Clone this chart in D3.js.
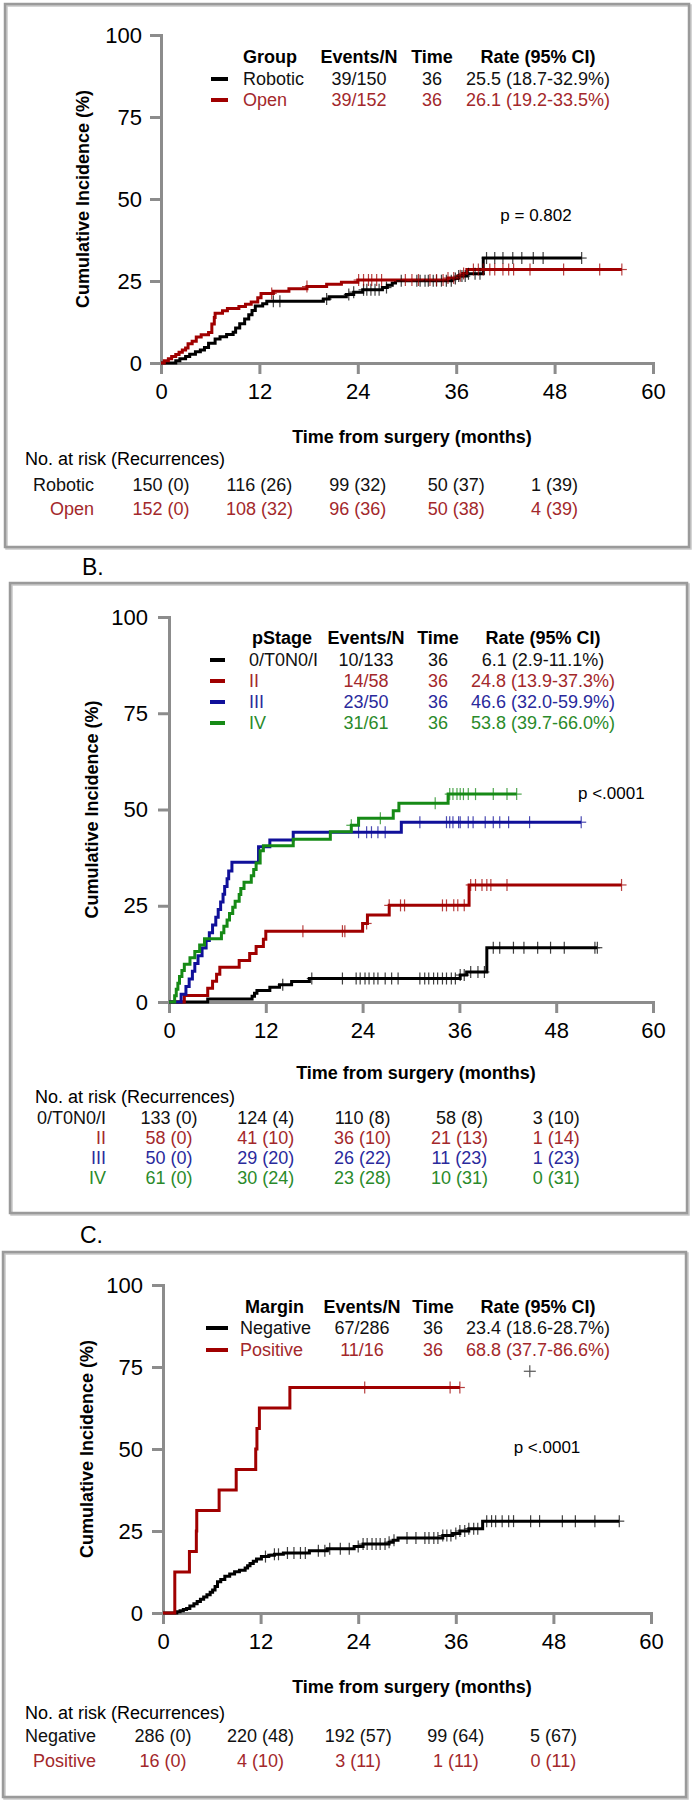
<!DOCTYPE html>
<html><head><meta charset="utf-8">
<script src="https://cdn.jsdelivr.net/npm/d3@7"></script>
<style>body{margin:0;background:#fff;} text{font-family:"Liberation Sans",Arial,sans-serif;}</style>
</head><body>
<svg id="chart" width="694" height="1800"></svg>
<script>
// ---------- shared ticks ----------
const timeTicks = [0, 12, 24, 36, 48, 60];
const incidenceTicks = [0, 25, 50, 75, 100];
const riskTimes = [0, 12, 24, 36, 48];

// ---------- Panel A : Group ----------
const groupNames = ["Robotic", "Open"];
const groupEvents = ["39/150", "39/152"];
const groupTime = [36, 36];
const groupRate = ["25.5 (18.7-32.9%)", "26.1 (19.2-33.5%)"];
const roboticSteps = [[1.8,0.7],[2.3,1.3],[3.0,2.0],[3.5,2.7],[4.2,3.4],[4.8,4.0],[5.3,4.7],[5.8,6.0],[6.6,7.3],[7.2,8.0],[8.0,8.7],[8.8,9.4],[9.1,10.7],[9.6,12.0],[10.2,13.4],[10.7,14.7],[11.1,16.0],[11.5,17.4],[12.4,18.1],[12.9,18.8],[19.8,19.5],[20.5,20.2],[22.6,20.9],[23.5,21.6],[24.6,22.3],[27.0,23.0],[27.6,23.7],[28.2,24.4],[28.6,25.1],[35.5,25.8],[36.2,26.5],[37.3,27.2],[39.3,32.0]];
const roboticEnd = 51.3;
const roboticCensor = [13.7,14.5,20.2,22.9,23.5,24.7,25.1,25.6,26.1,26.6,27.5,29.3,31.2,31.6,32.2,32.6,33.2,33.6,34.2,34.8,35.4,35.9,36.3,36.7,37.1,37.5,38.3,38.9,39.7,40.7,41.7,42.9,44.0,45.4,46.6,51.3];
const openSteps = [[0.4,0.7],[0.9,1.3],[1.3,2.0],[1.8,2.6],[2.2,3.3],[2.6,4.0],[3.0,4.6],[3.3,5.9],[3.8,6.6],[4.3,7.9],[4.9,8.6],[5.8,9.3],[6.2,11.9],[6.5,13.9],[6.6,15.2],[7.5,15.9],[8.1,16.6],[9.5,17.2],[10.3,17.9],[11.0,18.6],[11.8,19.9],[12.2,21.2],[13.7,21.9],[15.6,22.6],[17.8,23.3],[20.2,24.0],[22.0,24.6],[24.0,25.3],[35.0,25.9],[36.3,26.6],[36.8,27.3],[37.3,28.5]];
const openEnd = 56.2;
const openCensor = [13.5,17.8,24.1,24.7,25.3,25.7,26.3,26.9,29.8,30.6,31.4,32.8,33.6,34.4,35.0,35.7,36.5,36.9,38.1,38.7,39.3,40.1,40.7,41.7,42.4,43.0,45.0,49.1,53.5,56.2];
const roboticAtRisk = [150, 116, 99, 50, 1];
const roboticRecur = [0, 26, 32, 37, 39];
const openAtRisk = [152, 108, 96, 50, 4];
const openRecur = [0, 32, 36, 38, 39];

// ---------- Panel B : pStage ----------
const stageNames = ["0/T0N0/I", "II", "III", "IV"];
const stageEvents = ["10/133", "14/58", "23/50", "31/61"];
const stageTime = [36, 36, 36, 36];
const stageRate = ["6.1 (2.9-11.1%)", "24.8 (13.9-37.3%)", "46.6 (32.0-59.9%)", "53.8 (39.7-66.0%)"];
const stage0Steps = [[4.8,0.8],[10.3,1.5],[10.6,2.3],[10.9,3.0],[12.5,3.8],[13.7,4.5],[15.2,5.3],[17.4,6.1],[36.1,7.0],[36.9,7.8],[39.4,14.1]];
const stage0End = 53.1;
const stage0Censor = [14.1,17.7,21.5,23.2,23.7,24.3,24.8,25.4,25.9,26.8,27.6,28.4,31.1,31.7,32.2,32.8,33.3,33.9,34.4,35.0,35.5,36.1,36.6,37.4,38.3,39.1,40.2,41.0,42.7,44.0,45.7,47.3,49.0,52.8,53.1];
const stage2Steps = [[1.9,1.7],[4.8,3.6],[5.4,5.4],[5.9,7.2],[6.3,9.0],[8.7,10.8],[10.0,12.6],[10.8,14.4],[11.7,16.3],[12.0,18.4],[24.0,20.4],[24.6,22.6],[27.3,25.1],[37.2,30.4]];
const stage2End = 56.1;
const stage2Censor = [16.6,21.5,21.8,24.5,27.3,28.7,29.2,33.9,34.4,35.3,35.8,36.6,37.4,38.0,38.8,39.4,39.9,41.9,56.1];
const stage3Steps = [[1.5,2.0],[2.1,4.0],[2.5,6.0],[2.9,8.0],[3.2,10.0],[3.6,12.0],[4.1,14.0],[4.6,16.0],[5.0,18.0],[5.4,20.0],[5.8,22.0],[6.1,24.0],[6.4,26.0],[6.7,28.0],[6.9,30.0],[7.2,32.0],[7.4,34.0],[7.8,36.3],[11.1,40.3],[12.5,42.1],[15.4,44.1],[28.8,46.7]];
const stage3End = 51.1;
const stage3Censor = [23.5,24.5,25.1,25.9,26.8,31.1,34.4,34.8,35.2,35.9,36.1,37.1,37.7,39.2,40.2,41.0,42.1,44.7,51.1];
const stage4Steps = [[0.7,1.6],[0.9,3.3],[1.1,4.9],[1.3,6.6],[1.6,8.2],[1.9,9.8],[2.6,11.5],[3.2,13.1],[3.8,14.8],[4.4,16.4],[6.5,18.0],[6.8,19.7],[7.2,21.3],[7.5,23.0],[7.9,24.6],[8.2,26.2],[8.7,27.9],[8.9,29.5],[9.3,31.1],[10.2,32.8],[10.5,34.4],[10.8,36.1],[11.3,39.3],[11.7,40.6],[15.4,42.3],[20.0,44.2],[22.6,45.9],[23.5,47.7],[27.8,49.7],[28.5,51.6],[34.6,54.0]];
const stage4End = 43.1;
const stage4Censor = [22.6,26.2,33.0,34.8,35.2,35.7,36.1,36.5,37.1,38.0,40.2,41.9,43.1];
const stage0AtRisk = [133, 124, 110, 58, 3];
const stage0Recur = [0, 4, 8, 8, 10];
const stage2AtRisk = [58, 41, 36, 21, 1];
const stage2Recur = [0, 10, 10, 13, 14];
const stage3AtRisk = [50, 29, 26, 11, 1];
const stage3Recur = [0, 20, 22, 23, 23];
const stage4AtRisk = [61, 30, 23, 10, 0];
const stage4Recur = [0, 24, 28, 31, 31];

// ---------- Panel C : Margin ----------
const marginNames = ["Negative", "Positive"];
const marginEvents = ["67/286", "11/16"];
const marginTime = [36, 36];
const marginRate = ["23.4 (18.6-28.7%)", "68.8 (37.7-86.6%)"];
const negativeSteps = [[1.7,0.4],[2.1,0.7],[2.5,1.1],[2.9,1.4],[3.3,2.1],[3.8,2.8],[4.2,3.5],[4.6,4.2],[5.0,4.9],[5.4,5.6],[5.8,6.3],[6.1,7.0],[6.4,8.1],[6.7,9.5],[7.1,10.2],[7.6,11.2],[8.2,11.9],[8.8,12.6],[9.4,13.0],[10.1,13.7],[10.4,14.4],[10.7,15.1],[11.1,15.8],[11.5,16.5],[12.1,17.2],[13.0,17.6],[13.7,17.9],[14.8,18.3],[18.0,19.0],[20.2,19.6],[23.5,20.3],[24.6,21.0],[27.8,21.6],[28.3,22.2],[28.9,22.9],[34.4,23.6],[35.6,24.2],[36.5,25.0],[37.6,25.7],[39.3,28.0]];
const negativeEnd = 56.1;
const negativeCensor = [12.6,13.7,14.2,15.3,16.1,16.9,17.5,19.1,19.9,20.5,21.8,22.9,24.0,24.6,25.1,25.7,26.2,26.7,27.3,27.8,28.4,30.0,31.1,32.2,32.7,33.3,33.8,34.4,34.9,35.4,36.0,36.5,37.1,37.6,38.2,38.7,39.8,40.4,40.9,41.7,42.5,43.1,45.2,46.3,49.1,50.7,53.1,56.1];
const positiveSteps = [[1.45,12.5],[3.25,18.75],[4.1,25.0],[4.15,31.25],[6.9,37.5],[9.0,43.75],[11.4,50.0],[11.55,56.25],[11.85,62.5],[15.6,68.75]];
const positiveEnd = 36.5;
const positiveCensor = [24.8,35.3,36.5];
const strayMark = [[45.1, 73.7]];
const negativeAtRisk = [286, 220, 192, 99, 5];
const negativeRecur = [0, 48, 57, 64, 67];
const positiveAtRisk = [16, 4, 3, 1, 0];
const positiveRecur = [0, 10, 11, 11, 11];

// ---------- drawing ----------
const svg = d3.select("#chart");
svg.append("rect").attr("width", 694).attr("height", 1800).attr("fill", "#fff");

const LINE = {black: "#000000", red: "#a00000", blue: "#10109a", green: "#168a16"};
const TXT = {black: "#111111", red: "#a3282b", blue: "#2a2a9c", green: "#2a8a2a"};
const AXIS = "#8c8c8c";

function box(x0, y0, x1, y1) {
  svg.append("rect").attr("x", x0 + 1.5).attr("y", y0 + 1.5).attr("width", x1 - x0).attr("height", y1 - y0)
    .attr("fill", "none").attr("stroke", "#c8c8c8").attr("stroke-width", 2.5);
  svg.append("rect").attr("x", x0).attr("y", y0).attr("width", x1 - x0).attr("height", y1 - y0)
    .attr("fill", "none").attr("stroke", "#9a9a9a").attr("stroke-width", 2.5);
}

function panel(cfg) {
  const x = d3.scaleLinear().domain([0, 60]).range(cfg.xr);
  const y = d3.scaleLinear().domain([0, 100]).range(cfg.yr);
  const g = svg.append("g");

  // axes
  const ax = g.append("g").attr("transform", `translate(0,${cfg.yr[0]})`)
    .call(d3.axisBottom(x).tickValues(timeTicks).tickSize(11).tickSizeOuter(11).tickPadding(9));
  const ay = g.append("g").attr("transform", `translate(${cfg.xr[0]},0)`)
    .call(d3.axisLeft(y).tickValues(incidenceTicks).tickSize(11).tickSizeOuter(11).tickPadding(cfg.ypad));
  [ax, ay].forEach(a => {
    a.select(".domain").attr("stroke", AXIS).attr("stroke-width", 3);
    a.selectAll(".tick line").attr("stroke", AXIS).attr("stroke-width", 3);
    a.selectAll(".tick text").attr("fill", "#000").style("font-size", "22px")
      .style("font-family", "'Liberation Sans', Arial, sans-serif");
  });

  // axis titles
  g.append("text").attr("x", (cfg.xr[0] + cfg.xr[1]) / 2 + 5).attr("y", cfg.xTitleY).attr("dy", "0.35em")
    .attr("text-anchor", "middle").style("font-size", "18px").style("font-weight", "bold")
    .text("Time from surgery (months)");
  g.append("text").attr("transform", `translate(${cfg.yTitleX},${(cfg.yr[0] + cfg.yr[1]) / 2}) rotate(-90)`)
    .attr("dy", "0.35em").attr("text-anchor", "middle").style("font-size", "18px").style("font-weight", "bold")
    .text("Cumulative Incidence (%)");

  // curves
  const line = d3.line().x(d => x(d[0])).y(d => y(d[1])).curve(d3.curveStepAfter);
  cfg.series.forEach(s => {
    const last = s.steps[s.steps.length - 1][1];
    const pts = [[0, 0]].concat(s.steps).concat([[s.end, last]]);
    g.append("path").attr("d", line(pts)).attr("fill", "none")
      .attr("stroke", LINE[s.color]).attr("stroke-width", 3).attr("stroke-linejoin", "miter");
  });
  // censor marks
  cfg.series.forEach(s => {
    const vAt = t => { let v = 0; s.steps.forEach(p => { if (p[0] <= t) v = p[1]; }); return v; };
    const cg = g.append("g").attr("stroke", LINE[s.color]).attr("stroke-width", 1.2).attr("opacity", 0.75);
    s.censor.forEach(t => {
      const cx = x(t), cy = y(vAt(t));
      cg.append("line").attr("x1", cx).attr("x2", cx).attr("y1", cy - 6).attr("y2", cy + 6);
      cg.append("line").attr("x1", cx - 5).attr("x2", cx + 5).attr("y1", cy).attr("y2", cy);
    });
  });
  if (cfg.stray) {
    const sg = g.append("g").attr("stroke", "#555").attr("stroke-width", 1.2);
    cfg.stray.forEach(p => {
      sg.append("line").attr("x1", x(p[0])).attr("x2", x(p[0])).attr("y1", y(p[1]) - 6).attr("y2", y(p[1]) + 6);
      sg.append("line").attr("x1", x(p[0]) - 6).attr("x2", x(p[0]) + 6).attr("y1", y(p[1])).attr("y2", y(p[1]));
    });
  }

  // p value
  g.append("text").attr("x", cfg.p.x).attr("y", cfg.p.y).attr("dy", "0.35em")
    .attr("text-anchor", cfg.p.anchor).style("font-size", "17px").text(cfg.p.text);

  // legend
  const L = cfg.legend;
  const hdr = g.append("g").style("font-size", "18px").style("font-weight", "bold");
  hdr.append("text").attr("x", L.headX).attr("y", L.headY).attr("dy", "0.35em").text(L.title);
  hdr.append("text").attr("x", L.evX).attr("y", L.headY).attr("dy", "0.35em").attr("text-anchor", "middle").text("Events/N");
  hdr.append("text").attr("x", L.tX).attr("y", L.headY).attr("dy", "0.35em").attr("text-anchor", "middle").text("Time");
  hdr.append("text").attr("x", L.rX).attr("y", L.headY).attr("dy", "0.35em").attr("text-anchor", "middle").text("Rate (95% CI)");
  L.names.forEach((n, i) => {
    const yy = L.rows[i], c = cfg.series[i].color;
    g.append("line").attr("x1", L.line[0]).attr("x2", L.line[1]).attr("y1", yy).attr("y2", yy)
      .attr("stroke", LINE[c]).attr("stroke-width", 4);
    const row = g.append("g").style("font-size", "18px").attr("fill", TXT[c]);
    row.append("text").attr("x", L.labX).attr("y", yy).attr("dy", "0.35em").text(n);
    row.append("text").attr("x", L.evX).attr("y", yy).attr("dy", "0.35em").attr("text-anchor", "middle").text(L.events[i]);
    row.append("text").attr("x", L.tX).attr("y", yy).attr("dy", "0.35em").attr("text-anchor", "middle").text(L.time[i]);
    row.append("text").attr("x", L.rX).attr("y", yy).attr("dy", "0.35em").attr("text-anchor", "middle").text(L.rate[i]);
  });

  // risk table
  const R = cfg.risk;
  g.append("text").attr("x", R.headX).attr("y", R.headY).attr("dy", "0.35em").style("font-size", "18px")
    .text("No. at risk (Recurrences)");
  R.rows.forEach((r, i) => {
    const c = cfg.series[i].color;
    const rg = g.append("g").style("font-size", "18px").attr("fill", TXT[c]);
    rg.append("text").attr("x", R.labRight).attr("y", r.y).attr("dy", "0.35em").attr("text-anchor", "end").text(L.names[i]);
    riskTimes.forEach((t, j) => {
      rg.append("text").attr("x", x(t)).attr("y", r.y).attr("dy", "0.35em").attr("text-anchor", "middle")
        .text(`${r.n[j]} (${r.e[j]})`);
    });
  });
}

// Panel A
box(5, 4, 689, 547);
panel({
  xr: [161, 653], yr: [363, 35], ypad: 8, xTitleY: 437, yTitleX: 83,
  series: [
    {steps: roboticSteps, end: roboticEnd, censor: roboticCensor, color: "black"},
    {steps: openSteps, end: openEnd, censor: openCensor, color: "red"}
  ],
  p: {x: 536, y: 215, anchor: "middle", text: "p = 0.802"},
  legend: {title: "Group", names: groupNames, events: groupEvents, time: groupTime, rate: groupRate,
    headX: 243, headY: 57, rows: [79, 100], line: [211, 228], labX: 243, evX: 359, tX: 432, rX: 538},
  risk: {headX: 25, headY: 459, labRight: 94,
    rows: [{y: 485, n: roboticAtRisk, e: roboticRecur}, {y: 509, n: openAtRisk, e: openRecur}]}
});

// Panel B
svg.append("text").attr("x", 82).attr("y", 575).style("font-size", "23px").text("B.");
box(10, 583, 687, 1213);
panel({
  xr: [169, 653], yr: [1002, 617], ypad: 10, xTitleY: 1073, yTitleX: 92,
  series: [
    {steps: stage0Steps, end: stage0End, censor: stage0Censor, color: "black"},
    {steps: stage2Steps, end: stage2End, censor: stage2Censor, color: "red"},
    {steps: stage3Steps, end: stage3End, censor: stage3Censor, color: "blue"},
    {steps: stage4Steps, end: stage4End, censor: stage4Censor, color: "green"}
  ],
  p: {x: 578, y: 793, anchor: "start", text: "p <.0001"},
  legend: {title: "pStage", names: stageNames, events: stageEvents, time: stageTime, rate: stageRate,
    headX: 252, headY: 638, rows: [660, 681, 702, 723], line: [210, 225], labX: 249, evX: 366, tX: 438, rX: 543},
  risk: {headX: 35, headY: 1097, labRight: 106,
    rows: [{y: 1118, n: stage0AtRisk, e: stage0Recur}, {y: 1138, n: stage2AtRisk, e: stage2Recur},
           {y: 1158, n: stage3AtRisk, e: stage3Recur}, {y: 1178, n: stage4AtRisk, e: stage4Recur}]}
});

// Panel C
svg.append("text").attr("x", 80).attr("y", 1243).style("font-size", "23px").text("C.");
box(3, 1252, 686, 1797);
panel({
  xr: [163, 651], yr: [1613, 1285], ypad: 9, xTitleY: 1687, yTitleX: 87,
  series: [
    {steps: negativeSteps, end: negativeEnd, censor: negativeCensor, color: "black"},
    {steps: positiveSteps, end: positiveEnd, censor: positiveCensor, color: "red"}
  ],
  stray: strayMark,
  p: {x: 547, y: 1447, anchor: "middle", text: "p <.0001"},
  legend: {title: "Margin", names: marginNames, events: marginEvents, time: marginTime, rate: marginRate,
    headX: 245, headY: 1307, rows: [1328, 1350], line: [206, 228], labX: 240, evX: 362, tX: 433, rX: 538},
  risk: {headX: 25, headY: 1713, labRight: 96,
    rows: [{y: 1736, n: negativeAtRisk, e: negativeRecur}, {y: 1761, n: positiveAtRisk, e: positiveRecur}]}
});
</script>
</body></html>
